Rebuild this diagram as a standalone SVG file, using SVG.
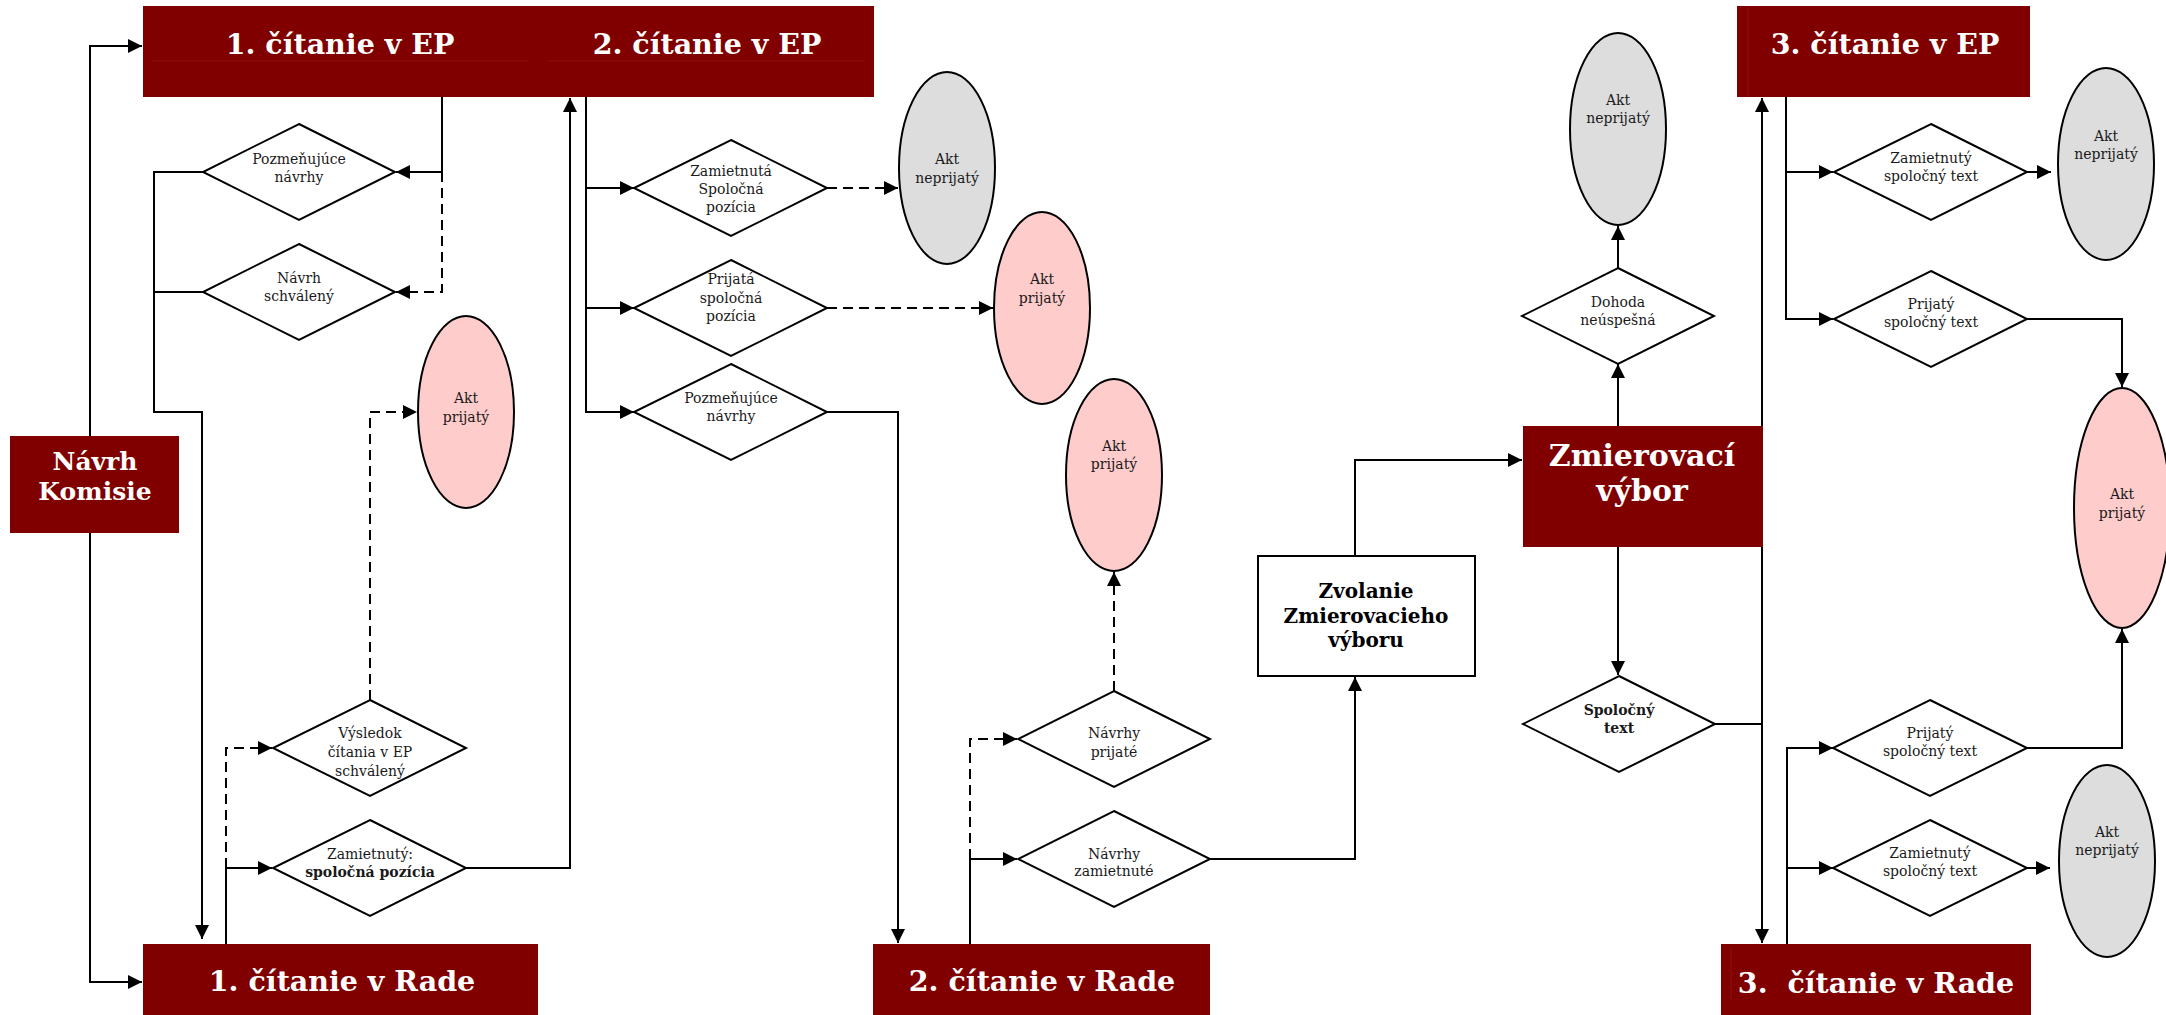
<svg xmlns="http://www.w3.org/2000/svg" width="2166" height="1015" viewBox="0 0 2166 1015">
<defs>
<marker id="ah" viewBox="0 0 14 14" refX="14" refY="7" markerWidth="14" markerHeight="14" markerUnits="userSpaceOnUse" orient="auto"><path d="M0,0 L14,7 L0,14 z" fill="#000"/></marker>
<style>
.hdr{fill:#800000}
.ht{fill:#fff;font-family:"DejaVu Serif","Liberation Serif",serif;font-weight:bold;font-size:28.5px;text-anchor:middle}
.dia{fill:#fff;stroke:#000;stroke-width:2}
.dt{fill:#1a1a1a;font-family:"DejaVu Serif","Liberation Serif",serif;font-size:14px;text-anchor:middle}
.b{font-weight:bold}
.pink{fill:#ffcccc;stroke:#000;stroke-width:2}
.grey{fill:#dddddd;stroke:#000;stroke-width:2}
.c{fill:none;stroke:#000;stroke-width:2}
.a{marker-end:url(#ah)}
.d{stroke-dasharray:10 6}
.fl{stroke:#8a1010;stroke-width:1}
</style>
</defs>
<rect width="2166" height="1015" fill="#fff"/>

<g id="connectors">
<path class="c a" d="M90,436 V46 H142"/>
<path class="c a" d="M90,533 V982 H142"/>
<path class="c a" d="M442,97 V172 H396"/>
<path class="c a d" d="M442,172 V292 H396"/>
<path class="c a" d="M203,172 H154 V412 H202 V939"/>
<path class="c" d="M203,292 H154"/>
<path class="c a" d="M226,944 V868 H272"/>
<path class="c a d" d="M226,868 V748 H272"/>
<path class="c a d" d="M370,700 V412 H417"/>
<path class="c a" d="M466,868 H570 V98"/>
<path class="c a" d="M586,97 V412 H634"/>
<path class="c a" d="M586,188 H634"/>
<path class="c a" d="M586,308 H634"/>
<path class="c a d" d="M827,188 H898"/>
<path class="c a d" d="M827,308 H993"/>
<path class="c a" d="M827,412 H898 V943"/>
<path class="c a" d="M970,944 V859 H1017"/>
<path class="c a d" d="M970,859 V739 H1017"/>
<path class="c a d" d="M1114,691 V572"/>
<path class="c a" d="M1210,859 H1355 V677"/>
<path class="c a" d="M1355,556 V460 H1522"/>
<path class="c a" d="M1618,426 V364"/>
<path class="c a" d="M1618,268 V226"/>
<path class="c a" d="M1618,547 V675"/>
<path class="c a" d="M1715,724 H1762 V98"/>
<path class="c a" d="M1762,724 V943"/>
<path class="c a" d="M1786,97 V319 H1833"/>
<path class="c a" d="M1786,172 H1833"/>
<path class="c a" d="M2027,172 H2051"/>
<path class="c a" d="M2027,319 H2122 V387"/>
<path class="c a" d="M1787,944 V748 H1833"/>
<path class="c a" d="M1787,868 H1833"/>
<path class="c a" d="M2027,748 H2122 V629"/>
<path class="c a" d="M2027,868 H2050"/>
</g>

<g id="n-cit1ep"><rect class="hdr" x="143" y="6" width="387" height="91"/><line class="fl" x1="153" y1="61" x2="529" y2="61"/><text class="ht" x="340" y="54">1. čítanie v EP</text></g>
<g id="n-cit2ep"><rect class="hdr" x="530" y="6" width="344" height="91"/><line class="fl" x1="547" y1="61" x2="864" y2="61"/><text class="ht" x="707" y="54">2. čítanie v EP</text></g>
<g id="n-cit3ep"><rect class="hdr" x="1737" y="6" width="293" height="91"/><line class="fl" x1="1748" y1="7" x2="1748" y2="97"/><text class="ht" x="1885" y="54">3. čítanie v EP</text></g>
<g id="n-cit1rada"><rect class="hdr" x="143" y="944" width="395" height="71"/><text class="ht" x="342" y="991">1. čítanie v Rade</text></g>
<g id="n-cit2rada"><rect class="hdr" x="873" y="944" width="337" height="71"/><text class="ht" x="1042" y="991">2. čítanie v Rade</text></g>
<g id="n-cit3rada"><rect class="hdr" x="1721" y="944" width="310" height="71"/><line class="fl" x1="1731" y1="946" x2="1731" y2="1000"/><text class="ht" x="1876" y="993" xml:space="preserve">3.  čítanie v Rade</text></g>
<g id="n-navrh"><rect class="hdr" x="10" y="436" width="169" height="97"/><text class="ht" style="font-size:25px" x="95" y="470">Návrh</text><text class="ht" style="font-size:25px" x="95" y="500">Komisie</text></g>
<g id="n-zmier"><rect class="hdr" x="1523" y="426" width="240" height="121"/><text class="ht" style="font-size:30px" x="1642" y="466">Zmierovací</text><text class="ht" style="font-size:30px" x="1642" y="501">výbor</text></g>
<g id="n-zvol"><rect x="1258" y="556" width="217" height="120" fill="#fff" stroke="#000" stroke-width="2"/><text class="dt b" style="font-size:20px;fill:#000" x="1366" y="598">Zvolanie</text><text class="dt b" style="font-size:20px;fill:#000" x="1366" y="623">Zmierovacieho</text><text class="dt b" style="font-size:20px;fill:#000" x="1366" y="647">výboru</text></g>

<g id="d1"><polygon class="dia" points="299,124 395,172 299,220 203,172"/><text class="dt" x="299" y="164">Pozmeňujúce</text><text class="dt" x="299" y="182">návrhy</text></g>
<g id="d2"><polygon class="dia" points="299,244 395,292 299,340 203,292"/><text class="dt" x="299" y="283">Návrh</text><text class="dt" x="299" y="301">schválený</text></g>
<g id="d3"><polygon class="dia" points="370,700 466,748 370,796 273,748"/><text class="dt" x="370" y="738">Výsledok</text><text class="dt" x="370" y="757">čítania v EP</text><text class="dt" x="370" y="776">schválený</text></g>
<g id="d4"><polygon class="dia" points="370,820 466,868 370,916 273,868"/><text class="dt" x="370" y="859">Zamietnutý:</text><text class="dt b" x="370" y="877">spoločná pozícia</text></g>
<g id="d5"><polygon class="dia" points="731,140 827,188 731,236 634,188"/><text class="dt" x="731" y="176">Zamietnutá</text><text class="dt" x="731" y="194">Spoločná</text><text class="dt" x="731" y="212">pozícia</text></g>
<g id="d6"><polygon class="dia" points="731,260 827,308 731,356 634,308"/><text class="dt" x="731" y="284">Prijatá</text><text class="dt" x="731" y="303">spoločná</text><text class="dt" x="731" y="321">pozícia</text></g>
<g id="d7"><polygon class="dia" points="731,364 827,412 731,460 634,412"/><text class="dt" x="731" y="403">Pozmeňujúce</text><text class="dt" x="731" y="421">návrhy</text></g>
<g id="d8"><polygon class="dia" points="1114,691 1210,739 1114,787 1018,739"/><text class="dt" x="1114" y="738">Návrhy</text><text class="dt" x="1114" y="757">prijaté</text></g>
<g id="d9"><polygon class="dia" points="1114,811 1210,859 1114,907 1018,859"/><text class="dt" x="1114" y="859">Návrhy</text><text class="dt" x="1114" y="876">zamietnuté</text></g>
<g id="d10"><polygon class="dia" points="1618,268 1714,316 1618,364 1522,316"/><text class="dt" x="1618" y="307">Dohoda</text><text class="dt" x="1618" y="325">neúspešná</text></g>
<g id="d11"><polygon class="dia" points="1619,676 1715,724 1619,772 1523,724"/><text class="dt b" x="1619" y="715">Spoločný</text><text class="dt b" x="1619" y="733">text</text></g>
<g id="d12"><polygon class="dia" points="1931,124 2027,172 1931,220 1834,172"/><text class="dt" x="1931" y="163">Zamietnutý</text><text class="dt" x="1931" y="181">spoločný text</text></g>
<g id="d13"><polygon class="dia" points="1931,271 2027,319 1931,367 1834,319"/><text class="dt" x="1931" y="309">Prijatý</text><text class="dt" x="1931" y="327">spoločný text</text></g>
<g id="d14"><polygon class="dia" points="1930,700 2027,748 1930,796 1833,748"/><text class="dt" x="1930" y="738">Prijatý</text><text class="dt" x="1930" y="756">spoločný text</text></g>
<g id="d15"><polygon class="dia" points="1930,820 2027,868 1930,916 1833,868"/><text class="dt" x="1930" y="858">Zamietnutý</text><text class="dt" x="1930" y="876">spoločný text</text></g>

<g id="e1"><ellipse class="pink" cx="466" cy="412" rx="48" ry="96"/><text class="dt" x="466" y="403">Akt</text><text class="dt" x="466" y="422">prijatý</text></g>
<g id="e2"><ellipse class="grey" cx="947" cy="168" rx="48" ry="96"/><text class="dt" x="947" y="164">Akt</text><text class="dt" x="947" y="183">neprijatý</text></g>
<g id="e3"><ellipse class="pink" cx="1042" cy="308" rx="48" ry="96"/><text class="dt" x="1042" y="284">Akt</text><text class="dt" x="1042" y="303">prijatý</text></g>
<g id="e4"><ellipse class="pink" cx="1114" cy="475" rx="48" ry="96"/><text class="dt" x="1114" y="451">Akt</text><text class="dt" x="1114" y="469">prijatý</text></g>
<g id="e5"><ellipse class="grey" cx="1618" cy="129" rx="48" ry="96"/><text class="dt" x="1618" y="105">Akt</text><text class="dt" x="1618" y="123">neprijatý</text></g>
<g id="e6"><ellipse class="grey" cx="2106" cy="164" rx="48" ry="96"/><text class="dt" x="2106" y="141">Akt</text><text class="dt" x="2106" y="159">neprijatý</text></g>
<g id="e7"><ellipse class="pink" cx="2122" cy="508" rx="48" ry="120"/><text class="dt" x="2122" y="499">Akt</text><text class="dt" x="2122" y="518">prijatý</text></g>
<g id="e8"><ellipse class="grey" cx="2107" cy="861" rx="48" ry="96"/><text class="dt" x="2107" y="837">Akt</text><text class="dt" x="2107" y="855">neprijatý</text></g>
</svg>
